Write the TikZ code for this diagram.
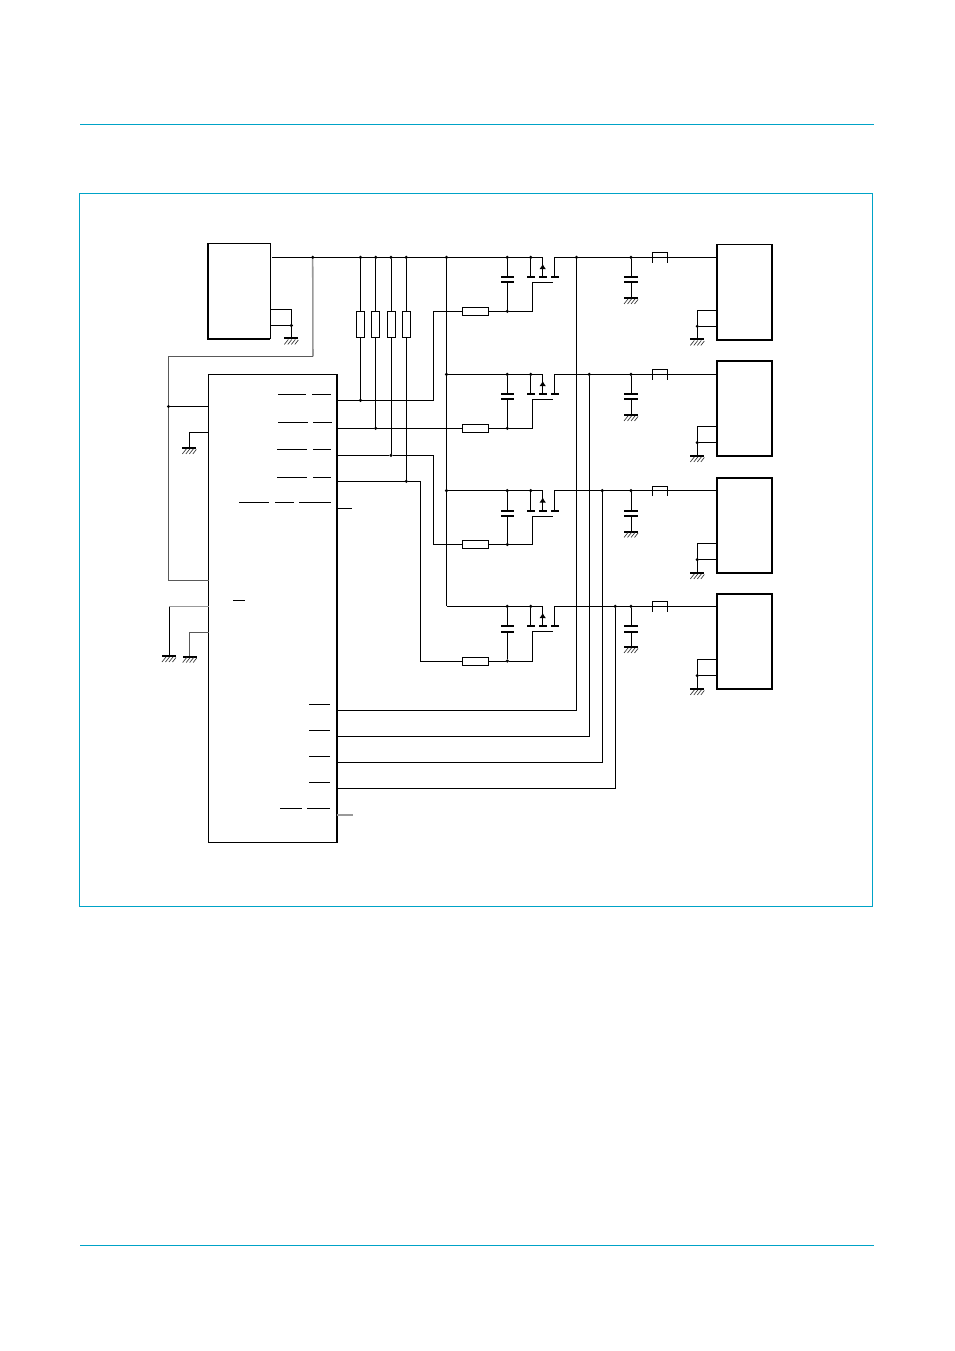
\documentclass[tikz,border=0pt]{standalone}
\usepackage{xcolor}
\usepackage{tikz}
\usetikzlibrary{arrows.meta, positioning}
\definecolor{framecyan}{HTML}{00A3C7}
\tikzset{
    every node/.style={inner sep=0pt, outer sep=0pt},
    dot/.style={circle, fill=black, minimum size=2.6pt},
    plate/.style={fill=black, minimum width=10pt, minimum height=1.5pt},
    mosbar/.style={fill=black, minimum width=6pt, minimum height=1.5pt},
    resh/.style={draw, fill=white, minimum width=19.7pt, minimum height=6pt},
    resv/.style={draw, fill=white, minimum width=6pt, minimum height=19.5pt},
    blockbox/.style={draw, line width=1.25pt, minimum width=41.6pt, minimum height=71.6pt},
    softwire/.style={black!40, line width=1.15pt},
    midwire/.style={black!65},
    frameline/.style={framecyan, line width=0.9pt},
    gnd/.pic={
        \fill (-7,-0.5) rectangle (7,1.5);
        \draw[black!80, line width=0.5pt] (-3,1.5) -- (-7,6.5);
        \draw[black!80, line width=0.5pt] (0.5,1.5) -- (-3.5,6.5);
        \draw[black!80, line width=0.5pt] (4,1.5) -- (0,6.5);
        \draw[black!80, line width=0.5pt] (7,2) -- (3.5,6.5);
    }
}
\begin{document}
\begin{tikzpicture}[x=0.75pt, y=-0.75pt, line width=0.75pt]
                \useasboundingbox (0,0) rectangle (954,1351);
                \draw[frameline] (80,124.4) -- (874,124.4);
                \draw[frameline] (79.5,193.4) rectangle (872.7,906.4);
                \draw[frameline] (80,1245.4) -- (874,1245.4);

                \node[draw, minimum width=47pt, minimum height=71.6pt] (src) at (239,291) {};
                \draw[line width=1.6pt] (src.north west) -- (src.south west) -- (src.south east);
                \node[draw, minimum width=96.4pt, minimum height=350.9pt] (ic) at (272.8,608.4) {};
                \draw[line width=1.6pt] (ic.north east) -- (ic.south east);

                \node[blockbox] (out1) at (744.5,292.2) {};
                \node[blockbox] (out2) at (744.5,408.5) {};
                \node[blockbox] (out3) at (744.5,525.5) {};
                \node[blockbox] (out4) at (744.5,641.5) {};

                \node[dot] (u0) at (312.7,257.4) {};
                \node[dot] (u1) at (360.5,257.4) {};
                \node[dot] (u2) at (375.7,257.4) {};
                \node[dot] (u3) at (391,257.4) {};
                \node[dot] (u4) at (406.3,257.4) {};
                \node[resv] (Rp1) at (360.5,324.3) {};
                \node[resv] (Rp2) at (375.7,324.3) {};
                \node[resv] (Rp3) at (391,324.3) {};
                \node[resv] (Rp4) at (406.3,324.3) {};
                \node[dot] (r1) at (360.5,400.3) {};
                \node[dot] (r2) at (375.7,428.3) {};
                \node[dot] (r3) at (391,455.3) {};
                \node[dot] (r4) at (406.3,481.3) {};
                \coordinate (b1) at (433.3,311.3);
                \coordinate (b3) at (433.3,544.5);
                \coordinate (b4) at (420.5,661);

                \node[dot] (rail1) at (446.5,257.4) {};
                \node[dot] (rail2) at (446.5,374.4) {};
                \node[dot] (rail3) at (446.5,490.6) {};
                \coordinate (rail4) at (446.5,606.4);

                \node[resh] (Rg1) at (475.5,311.3) {};
                \node[resh] (Rg2) at (475.5,428.3) {};
                \node[resh] (Rg3) at (475.5,544.5) {};
                \node[resh] (Rg4) at (475.5,661) {};
                \node[dot] (g1) at (507.3,311.3) {};
                \node[dot] (g2) at (507.3,428.3) {};
                \node[dot] (g3) at (507.3,544.5) {};
                \node[dot] (g4) at (507.3,661) {};

                \node[dot] (c1) at (507.3,257.4) {};
                \node[dot] (c2) at (507.3,374.4) {};
                \node[dot] (c3) at (507.3,490.6) {};
                \node[dot] (c4) at (507.3,606.4) {};
                \node[plate] (capA1) at (507.3,277.3) {};
                \node[plate] (capB1) at (507.3,282.5) {};
                \node[plate] (capA2) at (507.3,393.8) {};
                \node[plate] (capB2) at (507.3,399) {};
                \node[plate] (capA3) at (507.3,510.5) {};
                \node[plate] (capB3) at (507.3,516) {};
                \node[plate] (capA4) at (507.3,626) {};
                \node[plate] (capB4) at (507.3,631.5) {};

                \node[dot] (s1) at (530.7,257.4) {};
                \node[dot] (s2) at (530.7,374.4) {};
                \node[dot] (s3) at (530.7,490.6) {};
                \node[dot] (s4) at (530.7,606.4) {};
                \node[mosbar] (bs1) at (530.7,277.3) {};
                \node[mosbar] (bs2) at (530.7,393.8) {};
                \node[mosbar] (bs3) at (530.7,510.5) {};
                \node[mosbar] (bs4) at (530.7,626) {};
                \node[mosbar] (bm1) at (542.7,277.3) {};
                \node[mosbar] (bm2) at (542.7,393.8) {};
                \node[mosbar] (bm3) at (542.7,510.5) {};
                \node[mosbar] (bm4) at (542.7,626) {};
                \node[mosbar] (bd1) at (554.7,277.3) {};
                \node[mosbar] (bd2) at (554.7,393.8) {};
                \node[mosbar] (bd3) at (554.7,510.5) {};
                \node[mosbar] (bd4) at (554.7,626) {};
                \coordinate (m1) at (542.7,257.4);
                \coordinate (m2) at (542.7,374.4);
                \coordinate (m3) at (542.7,490.6);
                \coordinate (m4) at (542.7,606.4);
                \coordinate (d1) at (554.7,257.4);
                \coordinate (d2) at (554.7,374.4);
                \coordinate (d3) at (554.7,490.6);
                \coordinate (d4) at (554.7,606.4);
                \coordinate (ar1) at (542.7,264);
                \coordinate (ar2) at (542.7,381);
                \coordinate (ar3) at (542.7,497.5);
                \coordinate (ar4) at (542.7,613);
                \coordinate (gs1) at (532.3,282.5);
                \coordinate (gs2) at (532.3,399);
                \coordinate (gs3) at (532.3,516);
                \coordinate (gs4) at (532.3,631.5);
                \coordinate (ge1) at (553,282.5);
                \coordinate (ge2) at (553,399);
                \coordinate (ge3) at (553,516);
                \coordinate (ge4) at (553,631.5);

                \node[dot] (j1) at (576.5,257.4) {};
                \node[dot] (j2) at (589.3,374.4) {};
                \node[dot] (j3) at (602.3,490.6) {};
                \node[dot] (j4) at (615.3,606.4) {};
                \coordinate (t1) at (576.5,710.3);
                \coordinate (t2) at (589.3,736.3);
                \coordinate (t3) at (602.3,762.3);
                \coordinate (t4) at (615.3,788.3);

                \node[dot] (o1) at (631,257.4) {};
                \node[dot] (o2) at (631,374.4) {};
                \node[dot] (o3) at (631,490.6) {};
                \node[dot] (o4) at (631,606.4) {};
                \node[plate] (oA1) at (631,277.3) {};
                \node[plate] (oB1) at (631,282.5) {};
                \node[plate] (oA2) at (631,393.8) {};
                \node[plate] (oB2) at (631,399) {};
                \node[plate] (oA3) at (631,510.5) {};
                \node[plate] (oB3) at (631,516) {};
                \node[plate] (oA4) at (631,626) {};
                \node[plate] (oB4) at (631,631.5) {};
                \coordinate (og1) at (631,297.5);
                \coordinate (og2) at (631,414.5);
                \coordinate (og3) at (631,531);
                \coordinate (og4) at (631,646.5);

                \coordinate (fa1) at (652.5,262.7);
                \coordinate (fb1) at (667.5,262.7);
                \coordinate (fa2) at (652.5,379.7);
                \coordinate (fb2) at (667.5,379.7);
                \coordinate (fa3) at (652.5,496);
                \coordinate (fb3) at (667.5,496);
                \coordinate (fa4) at (652.5,611.7);
                \coordinate (fb4) at (667.5,611.7);

                \node[dot] (q1) at (697.3,326.3) {};
                \node[dot] (q2) at (697.3,442.6) {};
                \node[dot] (q3) at (697.3,559.6) {};
                \node[dot] (q4) at (697.3,675.6) {};
                \coordinate (p1) at (697.3,310.3);
                \coordinate (p2) at (697.3,426.6);
                \coordinate (p3) at (697.3,543.6);
                \coordinate (p4) at (697.3,659.6);
                \coordinate (e1) at (697.3,339);
                \coordinate (e2) at (697.3,455.5);
                \coordinate (e3) at (697.3,572.5);
                \coordinate (e4) at (697.3,688.5);

                \coordinate (p0) at (291.3,309.3);
                \node[dot] (q0) at (291.3,325.5) {};
                \coordinate (e0) at (291.3,338);
                \coordinate (k1) at (313,356.3);
                \node[dot] (l1) at (168.5,406.5) {};
                \coordinate (l2) at (168.5,580.3);
                \coordinate (bus0) at (272,257.4);
                \coordinate (s0) at (352,508.3);
                \coordinate (s9) at (352.5,815);
                \coordinate (w1) at (189.3,432.3);
                \coordinate (w2) at (189.3,447.5);
                \coordinate (w3) at (169,606.7);
                \coordinate (w4) at (169,655.5);
                \coordinate (w5) at (189.7,632.3);
                \coordinate (w6) at (189.7,656);

                \draw (bus0) -- (rail1);
                \draw (rail1) -- (m1);
                \draw (rail2) -- (m2);
                \draw (rail3) -- (m3);
                \draw (rail4) -- (m4);
                \draw (rail1) -- (rail2) -- (rail3) -- (rail4);

                \draw (src.east |- p0) -- (p0) -- (e0);
                \draw (src.east |- q0) -- (q0);
                \pic at (e0) {gnd};
                \draw[softwire] (u0) -- (k1);
                \draw[midwire] (k1) -| (l1) -- (l2) -- (ic.west |- l2);
                \draw (l1) -- (ic.west |- l1);
                \draw (ic.west |- w1) -- (w1) -- (w2);
                \pic at (w2) {gnd};
                \draw[softwire] (ic.west |- w3) -- (w3);
                \draw (w3) -- (w4);
                \pic at (w4) {gnd};
                \draw[midwire] (ic.west |- w5) -- (w5) -- (w6);
                \pic at (w6) {gnd};

                \draw (u1) -- (Rp1) -- (r1);
                \draw (u2) -- (Rp2) -- (r2);
                \draw (u3) -- (Rp3) -- (r3);
                \draw (u4) -- (Rp4) -- (r4);
                \draw (ic.east |- r1) -- (r1) -| (b1) -- (Rg1);
                \draw (ic.east |- r2) -- (r2) -- (Rg2);
                \draw (ic.east |- r3) -- (r3) -| (b3) -- (Rg3);
                \draw (ic.east |- r4) -- (r4) -| (b4) -- (Rg4);
                \draw (ic.east |- s0) -- (s0);
                \draw[softwire] (ic.east |- s9) -- (s9);

                \draw (c1) -- (capA1);
                \draw (c2) -- (capA2);
                \draw (c3) -- (capA3);
                \draw (c4) -- (capA4);
                \draw (capB1) -- (g1);
                \draw (capB2) -- (g2);
                \draw (capB3) -- (g3);
                \draw (capB4) -- (g4);
                \draw (Rg1) -- (g1) -| (gs1) -- (ge1);
                \draw (Rg2) -- (g2) -| (gs2) -- (ge2);
                \draw (Rg3) -- (g3) -| (gs3) -- (ge3);
                \draw (Rg4) -- (g4) -| (gs4) -- (ge4);

                \draw (s1) -- (bs1);
                \draw (s2) -- (bs2);
                \draw (s3) -- (bs3);
                \draw (s4) -- (bs4);
                \draw (m1) -- (bm1);
                \draw (m2) -- (bm2);
                \draw (m3) -- (bm3);
                \draw (m4) -- (bm4);
                \draw[-{Latex[length=3.8pt, width=5pt]}] (bm1) -- (ar1);
                \draw[-{Latex[length=3.8pt, width=5pt]}] (bm2) -- (ar2);
                \draw[-{Latex[length=3.8pt, width=5pt]}] (bm3) -- (ar3);
                \draw[-{Latex[length=3.8pt, width=5pt]}] (bm4) -- (ar4);
                \draw (bd1) -- (d1) -- (d1 -| out1.west);
                \draw (bd2) -- (d2) -- (d2 -| out2.west);
                \draw (bd3) -- (d3) -- (d3 -| out3.west);
                \draw (bd4) -- (d4) -- (d4 -| out4.west);

                \draw (j1) -- (t1) -- (ic.east |- t1);
                \draw (j2) -- (t2) -- (ic.east |- t2);
                \draw (j3) -- (t3) -- (ic.east |- t3);
                \draw (j4) -- (t4) -- (ic.east |- t4);

                \draw (o1) -- (oA1);
                \draw (o2) -- (oA2);
                \draw (o3) -- (oA3);
                \draw (o4) -- (oA4);
                \draw (oB1) -- (og1);
                \draw (oB2) -- (og2);
                \draw (oB3) -- (og3);
                \draw (oB4) -- (og4);
                \pic at (og1) {gnd};
                \pic at (og2) {gnd};
                \pic at (og3) {gnd};
                \pic at (og4) {gnd};

                \draw (fa1) -- ++(0,-10) -| (fb1);
                \draw (fa2) -- ++(0,-10) -| (fb2);
                \draw (fa3) -- ++(0,-10) -| (fb3);
                \draw (fa4) -- ++(0,-10) -| (fb4);

                \draw (out1.west |- p1) -- (p1) -- (e1);
                \draw (out2.west |- p2) -- (p2) -- (e2);
                \draw (out3.west |- p3) -- (p3) -- (e3);
                \draw (out4.west |- p4) -- (p4) -- (e4);
                \draw (out1.west |- q1) -- (q1);
                \draw (out2.west |- q2) -- (q2);
                \draw (out3.west |- q3) -- (q3);
                \draw (out4.west |- q4) -- (q4);
                \pic at (e1) {gnd};
                \pic at (e2) {gnd};
                \pic at (e3) {gnd};
                \pic at (e4) {gnd};

                \draw (278,394.3) -- (306,394.3);
                \draw (312.3,394.3) -- (331,394.3);
                \draw (278,422.3) -- (308,422.3);
                \draw (313,422.3) -- (332,422.3);
                \draw (277,449.3) -- (307,449.3);
                \draw (313,449.3) -- (331,449.3);
                \draw (277,477.3) -- (307,477.3);
                \draw (313,477.3) -- (331,477.3);
                \draw (239,502.3) -- (269,502.3);
                \draw (275,502.3) -- (294,502.3);
                \draw (299,502.3) -- (331,502.3);
                \draw (233,600.3) -- (245,600.3);
                \draw (309,704.3) -- (330,704.3);
                \draw (309,730.3) -- (330,730.3);
                \draw (309,756.3) -- (330,756.3);
                \draw (309,782.3) -- (330,782.3);
                \draw (280,808.3) -- (302,808.3);
                \draw (307,808.3) -- (330,808.3);
            \end{tikzpicture}
\end{document}
